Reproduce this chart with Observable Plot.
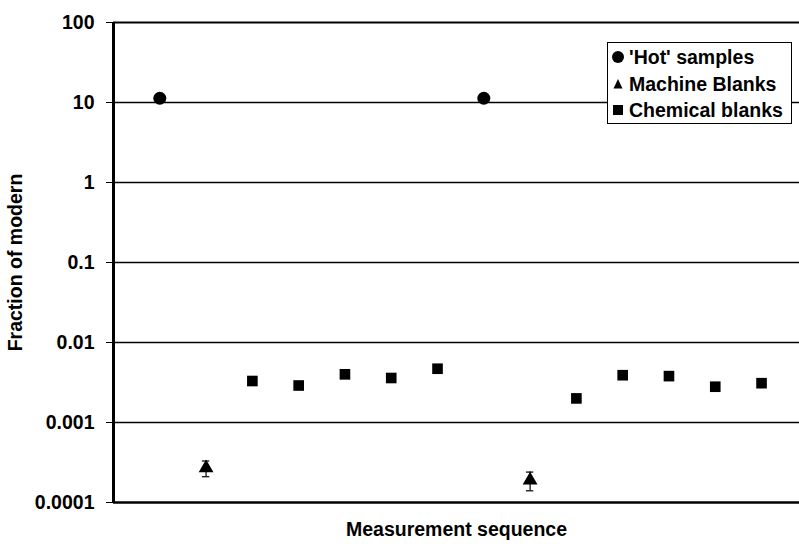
<!DOCTYPE html>
<html>
<head>
<meta charset="utf-8">
<script src="https://cdn.jsdelivr.net/npm/d3@7"></script>
<script src="https://cdn.jsdelivr.net/npm/@observablehq/plot@0.6"></script>
<style>
  html, body { margin: 0; padding: 0; background: #fff; }
  #wrap { position: relative; width: 799px; height: 544px; }
  #legend {
    position: absolute; left: 607px; top: 42px; width: 183px; height: 80px;
    border: 1.5px solid #000; background: #fff;
    font: bold 19.5px "Liberation Sans", Arial, sans-serif; color: #000;
  }
  #legend .row { position: absolute; left: 0; height: 26px; line-height: 26px; white-space: nowrap; }
  #legend svg { position: absolute; left: 2px; top: 5px; }
  #legend span { position: absolute; left: 21px; }
</style>
</head>
<body>
<div id="wrap"></div>
<script>
// ---- data ----
const hotX = [1, 8];
const hotY = [11.3, 11.3];
const machineX = [2, 9];
const machineY = [0.00027, 0.00019];
const machineErr = [0.00006, 0.00005];
const chemX = [3, 4, 5, 6, 7, 10, 11, 12, 13, 14];
const chemY = [0.0033, 0.0029, 0.0040, 0.0036, 0.0047, 0.0020, 0.0039, 0.0038, 0.0028, 0.0031];
const yTicks = [0.0001, 0.001, 0.01, 0.1, 1, 10, 100];
const yTickLabels = ["0.0001", "0.001", "0.01", "0.1", "1", "10", "100"];
const legendLabels = ["'Hot' samples", "Machine Blanks", "Chemical blanks"];

const hot = hotX.map((x, i) => ({x, y: hotY[i]}));
const machine = machineX.map((x, i) => ({x, y: machineY[i], lo: machineY[i] - machineErr[i], hi: machineY[i] + machineErr[i]}));
const chem = chemX.map((x, i) => ({x, y: chemY[i]}));

const font = '"Liberation Sans", Arial, sans-serif';

const chart = Plot.plot({
  width: 799,
  height: 544,
  marginLeft: 113,
  marginRight: 0,
  marginTop: 22,
  marginBottom: 42,
  style: {fontFamily: font, fontSize: "19.5px", fontWeight: "bold", color: "#000", background: "#fff"},
  x: {domain: [0, 14.82], axis: null},
  y: {type: "log", domain: [0.0001, 100]},
  marks: [
    Plot.ruleY(yTicks.slice(1, -1), {stroke: "#000", strokeWidth: 1.5}),
    Plot.ruleY([100], {stroke: "#000", strokeWidth: 2}),
    Plot.axisY({
      ticks: yTicks,
      tickFormat: (d) => yTickLabels[yTicks.indexOf(d)],
      tickSize: 7,
      tickPadding: 12,
      tickStrokeWidth: 2,
      label: "Fraction of modern",
      labelAnchor: "center",
      labelArrow: "none",
      labelOffset: 105,
      fontSize: 19.5
    }),
    Plot.axisX({ticks: [], label: "Measurement sequence", labelAnchor: "center", labelArrow: "none", labelOffset: 33, fontSize: 19.5}),
    Plot.ruleX([0], {stroke: "#000", strokeWidth: 3}),
    Plot.ruleY([0.0001], {stroke: "#000", strokeWidth: 2.5}),
    Plot.ruleX(machine, {x: "x", y1: "lo", y2: "hi", stroke: "#000", strokeWidth: 1.2}),
    Plot.ruleY(machine, {y: "lo", x1: (d) => d.x - 0.08, x2: (d) => d.x + 0.08, stroke: "#000", strokeWidth: 1.2}),
    Plot.ruleY(machine, {y: "hi", x1: (d) => d.x - 0.08, x2: (d) => d.x + 0.08, stroke: "#000", strokeWidth: 1.2}),
    Plot.dot(hot, {x: "x", y: "y", symbol: "circle", r: 6.5, fill: "#000", stroke: null}),
    Plot.dot(machine, {x: "x", y: "y", symbol: "triangle", r: 5.5, fill: "#000", stroke: null}),
    Plot.dot(chem, {x: "x", y: "y", symbol: "square", r: 6, fill: "#000", stroke: null})
  ]
});

const wrap = document.getElementById("wrap");
wrap.appendChild(chart);

// legend (inside plot area, top right)
const legend = document.createElement("div");
legend.id = "legend";
const symbols = [
  '<svg width="16" height="16"><circle cx="8" cy="8" r="6" fill="#000"/></svg>',
  '<svg width="16" height="16"><path d="M8,3 L12.5,12.5 L3.5,12.5 Z" fill="#000"/></svg>',
  '<svg width="16" height="16"><rect x="3" y="3" width="10" height="10" fill="#000"/></svg>'
];
legendLabels.forEach((lab, i) => {
  const row = document.createElement("div");
  row.className = "row";
  row.style.top = (1 + i * 26.5) + "px";
  row.innerHTML = symbols[i] + "<span>" + lab + "</span>";
  legend.appendChild(row);
});
wrap.appendChild(legend);
</script>
</body>
</html>
